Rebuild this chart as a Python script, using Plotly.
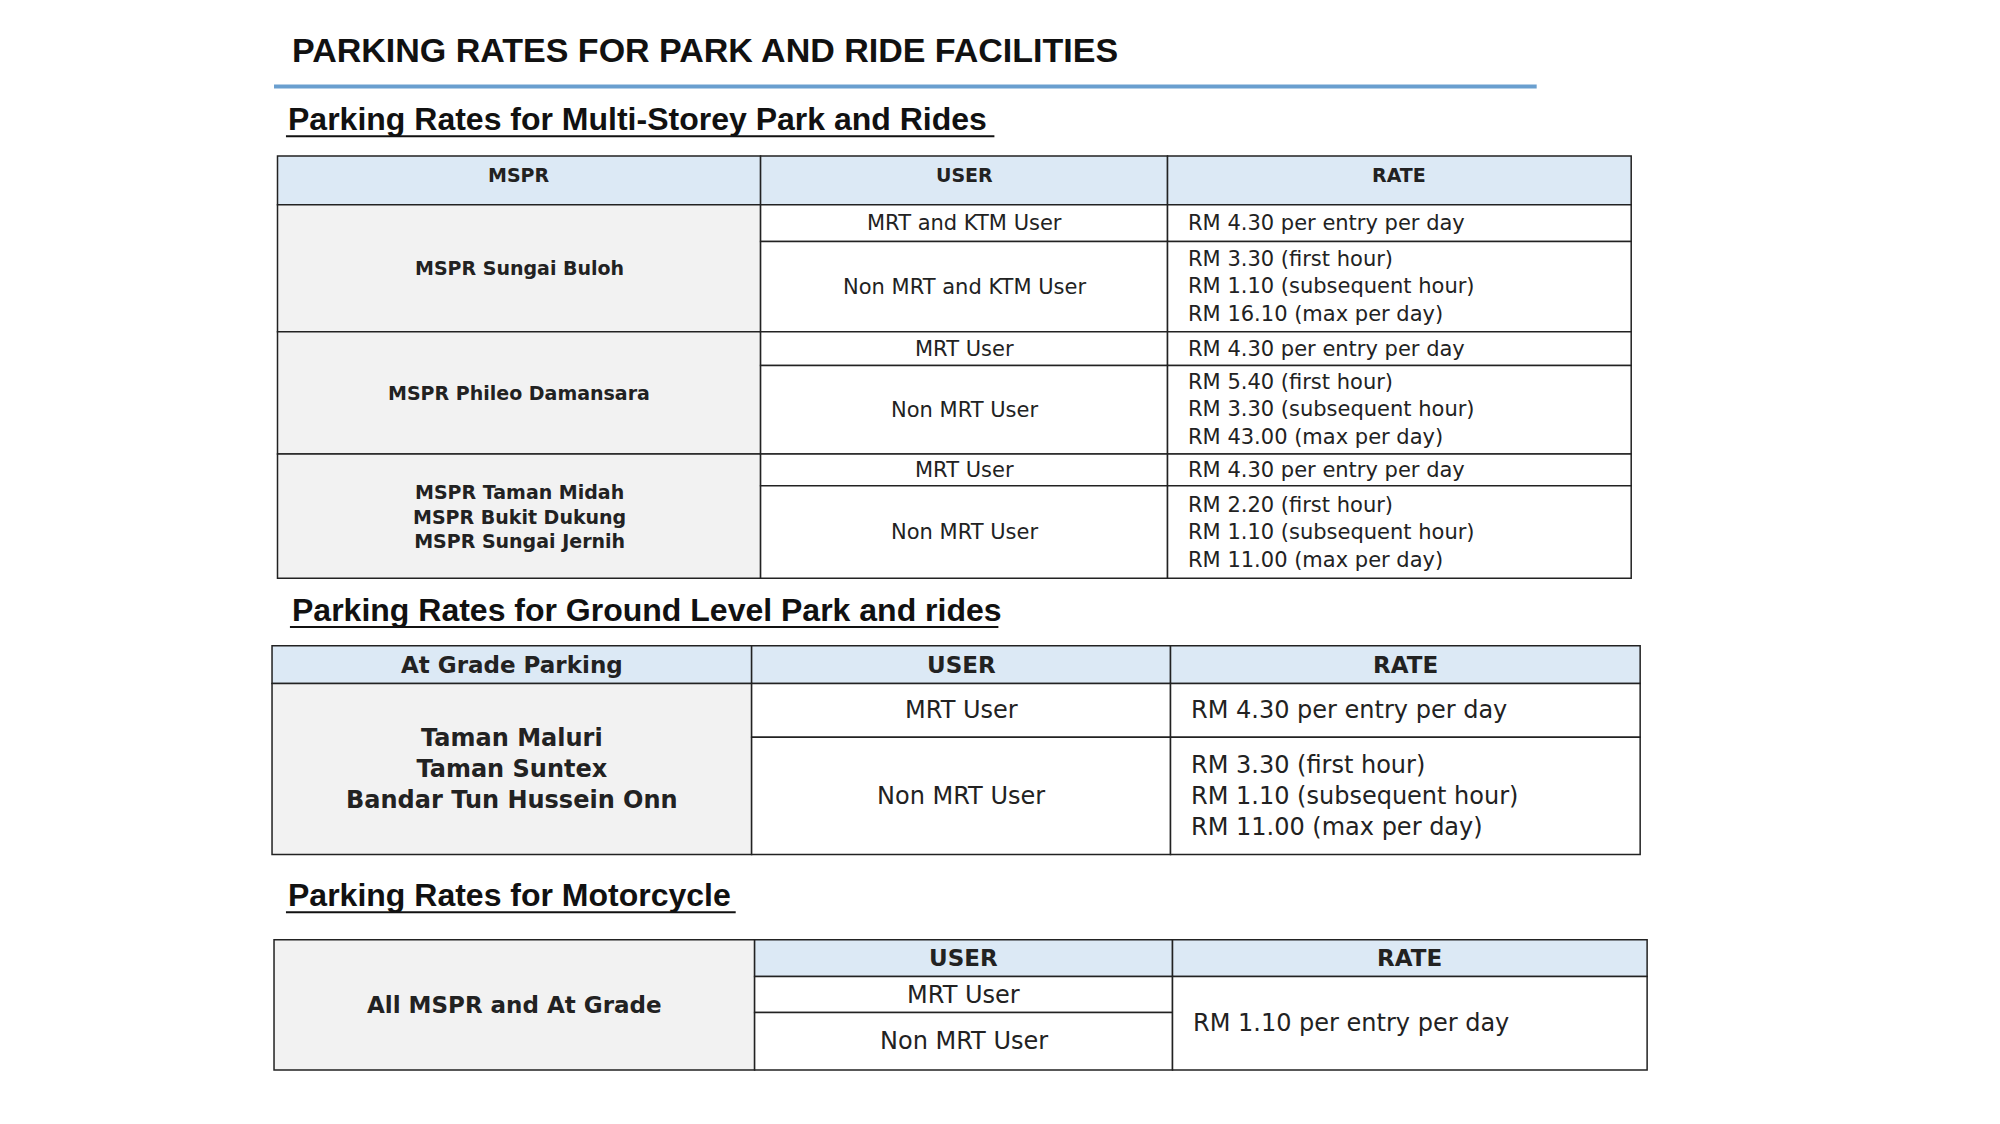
import plotly.graph_objects as go

# ---- text content ----
title = "PARKING RATES FOR PARK AND RIDE FACILITIES"
headings = ["Parking Rates for Multi-Storey Park and Rides",
            "Parking Rates for Ground Level Park and rides",
            "Parking Rates for Motorcycle"]

t1_header = ["MSPR", "USER", "RATE"]
t1_sites = ["MSPR Sungai Buloh", "MSPR Phileo Damansara",
            "MSPR Taman Midah<br>MSPR Bukit Dukung<br>MSPR Sungai Jernih"]
t1_users = ["MRT and KTM User", "Non MRT and KTM User", "MRT User", "Non MRT User", "MRT User", "Non MRT User"]
t1_rates = ["RM 4.30 per entry per day",
            "RM 3.30 (first hour)<br>RM 1.10 (subsequent hour)<br>RM 16.10 (max per day)",
            "RM 4.30 per entry per day",
            "RM 5.40 (first hour)<br>RM 3.30 (subsequent hour)<br>RM 43.00 (max per day)",
            "RM 4.30 per entry per day",
            "RM 2.20 (first hour)<br>RM 1.10 (subsequent hour)<br>RM 11.00 (max per day)"]

t2_header = ["At Grade Parking", "USER", "RATE"]
t2_site = "Taman Maluri<br>Taman Suntex<br>Bandar Tun Hussein Onn"
t2_users = ["MRT User", "Non MRT User"]
t2_rates = ["RM 4.30 per entry per day",
            "RM 3.30 (first hour)<br>RM 1.10 (subsequent hour)<br>RM 11.00 (max per day)"]

t3_header = ["USER", "RATE"]
t3_site = "All MSPR and At Grade"
t3_users = ["MRT User", "Non MRT User"]
t3_rate = "RM 1.10 per entry per day"

# ---- layout geometry (pixels) ----
HEAD = "#dce9f5"
GRAY = "#f2f2f2"
FONT = "DejaVu Sans"
HFONT = "Liberation Sans Narrow, Liberation Sans"

fig = go.Figure()
shapes, annos = [], []


# small correction of the hand-measured positions
def X(x):
    return x * 0.995 - 8.6


def Y(y):
    return y * 0.9935 - 7


def cell(x0, x1, y0, y1, fill, text, size, bold=False, align="center", valign="middle", pad=0):
    x0, x1, y0, y1 = X(x0), X(x1), Y(y0), Y(y1)
    shapes.append(dict(type="rect", x0=x0, x1=x1, y0=y0, y1=y1, fillcolor=fill,
                       line=dict(color="#222", width=1.5), layer="below"))
    t = f"<b>{text}</b>" if bold else text
    x = (x0 + x1) / 2 if align == "center" else x0 + 18
    y = (y0 + y1) / 2 if valign == "middle" else y0 + pad
    annos.append(dict(x=x, y=y, text=t, showarrow=False, xanchor=align,
                      yanchor="middle" if valign == "middle" else "top",
                      align=align, font=dict(family=FONT, size=size, color="#222")))


def heading(x, y, text, x_end):
    x, y, x_end = X(x), Y(y), X(x_end)
    annos.append(dict(x=x, y=y, text=f"<b>{text}</b>", showarrow=False, xanchor="left", yanchor="middle",
                      font=dict(family=HFONT, size=32, color="#111")))
    shapes.append(dict(type="line", x0=x, x1=x_end, y0=y + 17, y1=y + 17, line=dict(color="#111", width=2)))


# title
annos.append(dict(x=X(292), y=Y(49), text=f"<b>{title}</b>", showarrow=False, xanchor="left", yanchor="middle",
                  font=dict(family=HFONT, size=34, color="#111")))
shapes.append(dict(type="line", x0=X(276), x1=X(1545), y0=Y(86), y1=Y(86), line=dict(color="#6a9fcf", width=4)))

# table 1
heading(288, 119, headings[0], 1000)
cx = [279.5, 765, 1174, 1640]
ry = [156, 205, 242, 333, 367, 456, 488, 581]
for i, h in enumerate(t1_header):
    cell(cx[i], cx[i + 1], ry[0], ry[1], HEAD, h, 19, True, valign="top", pad=6)
for s in range(3):
    cell(cx[0], cx[1], ry[1 + 2 * s], ry[3 + 2 * s], GRAY, t1_sites[s], 19, True)
for r in range(6):
    cell(cx[1], cx[2], ry[1 + r], ry[2 + r], "white", t1_users[r], 21)
    cell(cx[2], cx[3], ry[1 + r], ry[2 + r], "white", t1_rates[r], 21, align="left")

# table 2
heading(292, 613, headings[1], 1004)
cx = [274, 756, 1177, 1649]
ry = [649, 687, 741, 859]
for i, h in enumerate(t2_header):
    cell(cx[i], cx[i + 1], ry[0], ry[1], HEAD, h, 23, True)
cell(cx[0], cx[1], ry[1], ry[3], GRAY, t2_site, 24, True)
for r in range(2):
    cell(cx[1], cx[2], ry[1 + r], ry[2 + r], "white", t2_users[r], 24)
    cell(cx[2], cx[3], ry[1 + r], ry[2 + r], "white", t2_rates[r], 24, align="left")

# table 3
heading(288, 900, headings[2], 740)
cx = [276, 759, 1179, 1656]
ry = [945, 982, 1018, 1076]
cell(cx[0], cx[1], ry[0], ry[3], GRAY, t3_site, 23, True)
for i, h in enumerate(t3_header):
    cell(cx[1 + i], cx[2 + i], ry[0], ry[1], HEAD, h, 23, True)
for r in range(2):
    cell(cx[1], cx[2], ry[1 + r], ry[2 + r], "white", t3_users[r], 24)
cell(cx[2], cx[3], ry[1], ry[3], "white", t3_rate, 24, align="left")

fig.update_layout(width=2000, height=1124, margin=dict(l=0, r=0, t=0, b=0),
                  plot_bgcolor="white", paper_bgcolor="white", shapes=shapes, annotations=annos,
                  xaxis=dict(range=[0, 2000], visible=False, fixedrange=True),
                  yaxis=dict(range=[1124, 0], visible=False, fixedrange=True), showlegend=False)
fig.write_html("out.html")
